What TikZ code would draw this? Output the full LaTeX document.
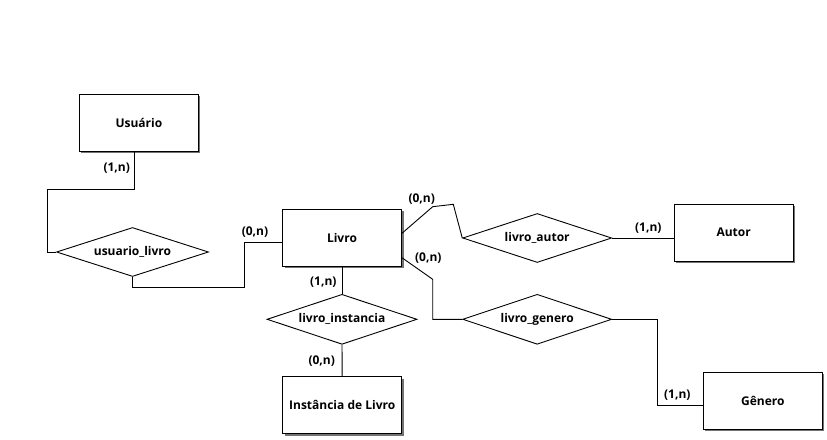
\documentclass[tikz,border=0pt]{standalone}
\usepackage{fontspec}
\setmainfont{Open Sans}
\usetikzlibrary{shapes.geometric,shadows}
\begin{document}
\begin{tikzpicture}[x=1pt,y=-1pt,
  lbl/.style={font=\bfseries\fontsize{12}{14}\selectfont},
  ent/.style={draw, fill=white, line width=0.9pt, minimum width=119pt, minimum height=57pt, inner sep=0pt, lbl,
    general shadow={fill=black!55, shadow xshift=2pt, shadow yshift=-2pt}},
  rel/.style={draw, diamond, aspect=3, fill=white, line width=0.9pt, minimum width=150pt, minimum height=50pt, inner sep=0pt, lbl},
  card/.style={lbl, inner sep=0pt},
  conn/.style={line width=0.9pt}]
\useasboundingbox (0,0) rectangle (827,439);
% entities
\node[ent] (usuario) at (138.9,122.5) {Usuário};
\node[ent] (livro) at (342,237.7) {Livro};
\node[ent] (autor) at (733.7,232.7) {Autor};
\node[ent] (genero) at (762.8,400.7) {Gênero};
\node[ent] (inst) at (342.2,405.3) {Instância de Livro};
% relationships
\node[rel, minimum width=152pt, minimum height=49pt] (ul) at (132.5,252) {usuario\_livro};
\node[rel, minimum width=149pt, minimum height=49pt] (la) at (537.2,238) {livro\_autor};
\node[rel, minimum width=149pt] (lg) at (537.2,319.3) {livro\_genero};
\node[rel] (li) at (342,319.3) {livro\_instancia};
% connectors
\coordinate (c1) at (47,189);
\coordinate (c2) at (244,287);
\coordinate (c3) at (432.7,206.7);
\coordinate (c4) at (453.3,204.3);
\coordinate (c5) at (432.7,279.3);
\coordinate (c6) at (657.3,405);
\draw[conn] ([xshift=-4pt]usuario.south) |- (c1) |- (ul.west);
\draw[conn] (ul.south) |- (c2) |- ([yshift=-4.6pt]livro.west);
\draw[conn] ([yshift=4.4pt]livro.east) -- (c3) -- (c4) -- (la.west);
\draw[conn] ([yshift=-20pt]livro.east) -- (c5) |- (lg.west);
\draw[conn] (la.east) -- (la.east -| autor.west);
\draw[conn] (lg.east) -| (c6) -- ([yshift=-4.3pt]genero.west);
\draw[conn] (livro.south) -- (li.north);
\draw[conn] (li.south) -- (inst.north);
% cardinalities
\node[card] (k1) at (116.7,168.3) {(1,n)};
\node[card] (k2) at (255,232) {(0,n)};
\node[card] (k3) at (421.7,199.3) {(0,n)};
\node[card] (k4) at (428.3,258.3) {(0,n)};
\node[card] (k5) at (323.3,281.7) {(1,n)};
\node[card] (k6) at (321.7,360.7) {(0,n)};
\node[card] (k7) at (648.3,228.3) {(1,n)};
\node[card] (k8) at (677.3,395) {(1,n)};
\end{tikzpicture}
\end{document}
